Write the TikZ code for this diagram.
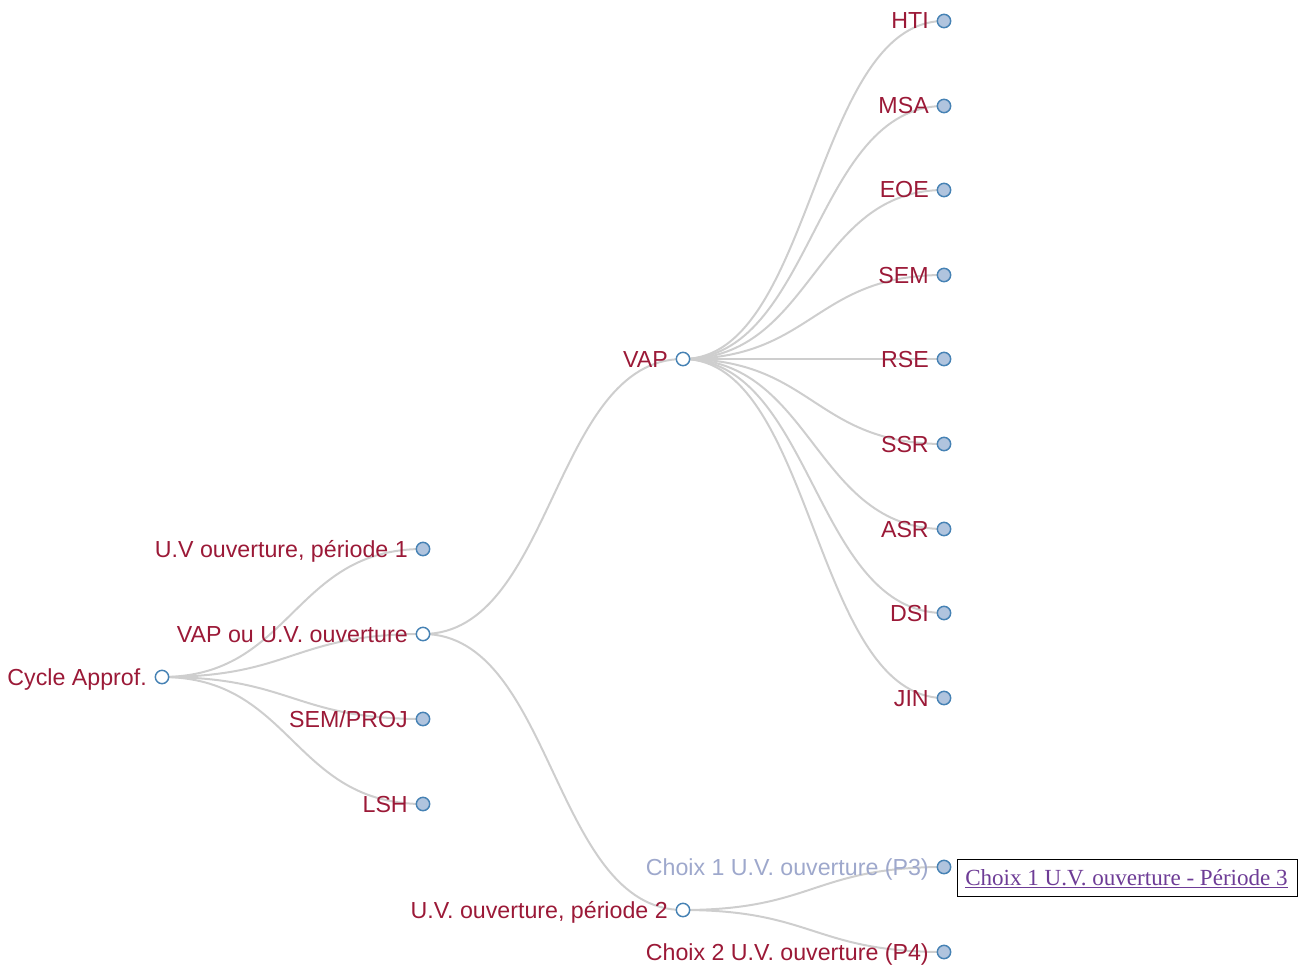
\documentclass[tikz,border=0pt]{standalone}
\usepackage{fontspec}
\setmainfont{Liberation Sans}
\newfontfamily\tipfont{Liberation Serif}
\usetikzlibrary{calc}
\definecolor{lbl}{RGB}{155,25,55}
\definecolor{lblfaded}{RGB}{158,168,204}
\definecolor{steel}{RGB}{70,130,180}
\definecolor{lsteel}{RGB}{176,196,222}
\definecolor{edgegray}{RGB}{206,206,206}
\definecolor{tipc}{RGB}{110,60,150}
\pgfdeclarelayer{edges}
\pgfsetlayers{edges,main}
% horizontal d3-style diagonal between two tree nodes
\newcommand\treelink[2]{%
  \begin{pgfonlayer}{edges}
  \draw[treeedge] let \p1=(#1.center), \p2=(#2.center) in
    (\p1) .. controls ({0.5*\x1+0.5*\x2},\y1) and ({0.5*\x1+0.5*\x2},\y2) .. (\p2);
  \end{pgfonlayer}}
\begin{document}
\begin{tikzpicture}[x=0.75pt,y=-0.75pt,
  treeedge/.style={draw=edgegray, line width=1.5pt},
  dot/.style={circle, draw=steel, line width=1.1pt, minimum size=10pt, inner sep=0pt},
  leafdot/.style={dot, fill=lsteel},
  opendot/.style={dot, fill=white},
  lbltext/.style={anchor=base east, text=lbl, inner sep=0pt, font=\fontsize{17.4}{20}\selectfont},
  tipbox/.style={draw=black, line width=1.1pt, fill=white, anchor=north west,
    minimum width=255pt, minimum height=27.75pt, inner sep=0pt},
  tiptext/.style={anchor=base west, inner sep=0pt, text=tipc, font=\tipfont\fontsize{17.3}{20}\selectfont}]
\useasboundingbox (0,0) rectangle (1306,966);

% level 0
\node[opendot] (root) at (162,677) {};
% level 1
\node[leafdot] (p1)  at (423,549) {};
\node[opendot] (vou) at (423,634) {};
\node[leafdot] (sem) at (423,719) {};
\node[leafdot] (lsh) at (423,804) {};
% level 2
\node[opendot] (vap)  at (683,359) {};
\node[opendot] (uvp2) at (683,910) {};
% level 3
\node[leafdot] (hti)  at (944,21) {};
\node[leafdot] (msa)  at (944,106) {};
\node[leafdot] (eoe)  at (944,190) {};
\node[leafdot] (semv) at (944,275) {};
\node[leafdot] (rse)  at (944,359) {};
\node[leafdot] (ssr)  at (944,444) {};
\node[leafdot] (asr)  at (944,529) {};
\node[leafdot] (dsi)  at (944,613) {};
\node[leafdot] (jin)  at (944,698) {};
\node[leafdot] (c1)   at (944,867) {};
\node[leafdot] (c2)   at (944,952) {};

% labels
\node[lbltext] (root-t) at ($(root)+(-15,8)$) {Cycle Approf.};
\node[lbltext] (p1-t)   at ($(p1)+(-15,8)$) {U.V ouverture, période 1};
\node[lbltext] (vou-t)  at ($(vou)+(-15,8)$) {VAP ou U.V. ouverture};
\node[lbltext] (sem-t)  at ($(sem)+(-15,8)$) {SEM/PROJ};
\node[lbltext] (lsh-t)  at ($(lsh)+(-15,8)$) {LSH};
\node[lbltext] (vap-t)  at ($(vap)+(-15,8)$) {VAP};
\node[lbltext] (uvp2-t) at ($(uvp2)+(-15,8)$) {U.V. ouverture, période 2};
\node[lbltext] (hti-t)  at ($(hti)+(-15,8)$) {HTI};
\node[lbltext] (msa-t)  at ($(msa)+(-15,8)$) {MSA};
\node[lbltext] (eoe-t)  at ($(eoe)+(-15,8)$) {EOE};
\node[lbltext] (semv-t) at ($(semv)+(-15,8)$) {SEM};
\node[lbltext] (rse-t)  at ($(rse)+(-15,8)$) {RSE};
\node[lbltext] (ssr-t)  at ($(ssr)+(-15,8)$) {SSR};
\node[lbltext] (asr-t)  at ($(asr)+(-15,8)$) {ASR};
\node[lbltext] (dsi-t)  at ($(dsi)+(-15,8)$) {DSI};
\node[lbltext] (jin-t)  at ($(jin)+(-15,8)$) {JIN};
\node[lbltext, text=lblfaded] (c1-t) at ($(c1)+(-15,8)$) {Choix 1 U.V. ouverture (P3)};
\node[lbltext] (c2-t)   at ($(c2)+(-15,8)$) {Choix 2 U.V. ouverture (P4)};

% links
\treelink{root}{p1}
\treelink{root}{vou}
\treelink{root}{sem}
\treelink{root}{lsh}
\treelink{vou}{vap}
\treelink{vou}{uvp2}
\treelink{vap}{hti}
\treelink{vap}{msa}
\treelink{vap}{eoe}
\treelink{vap}{semv}
\treelink{vap}{rse}
\treelink{vap}{ssr}
\treelink{vap}{asr}
\treelink{vap}{dsi}
\treelink{vap}{jin}
\treelink{uvp2}{c1}
\treelink{uvp2}{c2}

% hover tooltip
\node[tipbox] (tip) at (957,859) {};
\node[tiptext] (tip-t) at (965,885) {\underline{Choix 1 U.V. ouverture - Période 3}};
\end{tikzpicture}
\end{document}
